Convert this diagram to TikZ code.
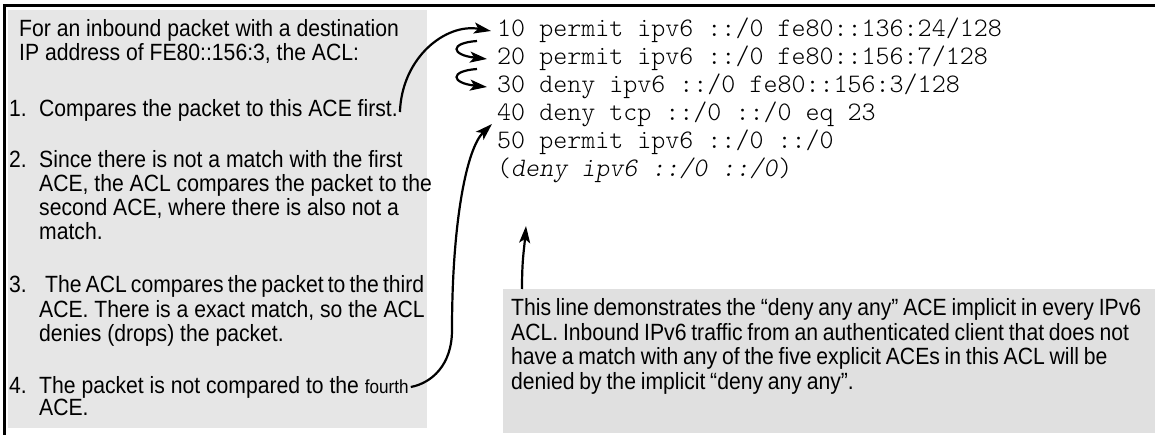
\documentclass[tikz,border=0pt]{standalone}
\usepackage{fontspec}
\setmainfont[FakeStretch=0.9]{Liberation Sans}
\usetikzlibrary{arrows.meta}
\definecolor{leftfill}{RGB}{230,230,230}
\definecolor{rightfill}{RGB}{224,224,224}
\tikzset{
  txt/.style={inner sep=0pt, anchor=base west, font=\fontsize{23.5}{25}\selectfont},
  code/.style={inner sep=0pt, anchor=base west, font=\ttfamily\fontseries{l}\fontsize{26.7}{28}\selectfont},
  panel/.style={inner sep=0pt, anchor=north west, draw=none},
  conn/.style={line width=2.2pt, -{Stealth[length=17pt,width=11pt,inset=4pt]}},
  frame/.style={line width=3pt}
}
\begin{document}
\begin{tikzpicture}[x=1pt,y=-1pt]
\useasboundingbox (0,0) rectangle (1155,435);

% background panels
\node[panel, fill=leftfill, minimum width=419pt, minimum height=418pt] (leftpanel) at (8,10) {};
\node[panel, fill=rightfill, minimum width=652pt, minimum height=144pt] (rightpanel) at (503,289) {};

% frame lines on top and left
\draw[frame] (4,435) -- (4,6) -- (1155,6);

% explanation, left column
\node[txt] (intro1) at (19,37) {For an inbound packet with a destination};
\node[txt] (intro2) at (19,61) {IP address of FE80::156:3, the ACL:};

\node[txt] (num1) at (9,117) {1.};
\node[txt] (item1) at (39,117) {Compares the packet to this ACE first.};

\node[txt] (num2) at (9,168) {2.};
\node[txt] (item2a) at (39,168) {Since there is not a match with the first};
\node[txt] (item2b) at (39,192) {ACE, the ACL compares the packet to the};
\node[txt] (item2c) at (39,216) {second ACE, where there is also not a};
\node[txt] (item2d) at (39,240) {match.};

\node[txt] (num3) at (9,293) {3.};
\node[txt] (item3a) at (45,293) {\spaceskip=4.1pt The ACL compares the packet to the third};
\node[txt] (item3b) at (39,317) {ACE. There is a exact match, so the ACL};
\node[txt] (item3c) at (39,341) {denies (drops) the packet.};

\node[txt] (num4) at (9,393) {4.};
\node[txt] (item4a) at (39,393) {The packet is not compared to the {\fontsize{19}{20}\selectfont fourth}};
\node[txt] (item4b) at (39,415) {ACE.};

% access control entries
\node[code] (ace10) at (497,37) {10 permit ipv6 ::/0 fe80::136:24/128};
\node[code] (ace20) at (497,65) {20 permit ipv6 ::/0 fe80::156:7/128};
\node[code] (ace30) at (497,93) {30 deny ipv6 ::/0 fe80::156:3/128};
\node[code] (ace40) at (497,121) {40 deny tcp ::/0 ::/0 eq 23};
\node[code] (ace50) at (497,149) {50 permit ipv6 ::/0 ::/0};
\node[code] (ace60) at (497,177) {(\textsl{deny ipv6 ::/0 ::/0})};

% note on the implicit entry
\node[txt] (note1) at (511,315) {\spaceskip=4.8pt This line demonstrates the “deny any any” ACE implicit in every IPv6};
\node[txt] (note2) at (511,340) {\spaceskip=4.8pt ACL. Inbound IPv6 traffic from an authenticated client that does not};
\node[txt] (note3) at (511,364) {\spaceskip=4.8pt have a match with any of the five explicit ACEs in this ACL will be};
\node[txt] (note4) at (511,389) {\spaceskip=4.8pt denied by the implicit “deny any any”.};

% connector end points
\coordinate (a1s) at ([xshift=2pt,yshift=5pt]item1.base east);
\coordinate (a1e) at ([xshift=-6pt,yshift=6pt]ace10.base west);
\coordinate (b1s) at ([xshift=-20pt,yshift=-4pt]ace10.base west);
\coordinate (b1e) at ([xshift=-10pt,yshift=6pt]ace20.base west);
\coordinate (b2s) at ([xshift=-20pt,yshift=-4pt]ace20.base west);
\coordinate (b2e) at ([xshift=-10pt,yshift=6pt]ace30.base west);
\coordinate (c1s) at ([xshift=2pt,yshift=6pt]item4a.base east);
\coordinate (c1m) at (452,330);
\coordinate (c1e) at ([xshift=-5pt,yshift=-3pt]ace40.base west);
\coordinate (d1s) at ([xshift=19pt]rightpanel.north west);
\coordinate (d1e) at ([xshift=29pt,yshift=-49pt]ace60.base west);

% connectors
\draw[conn] (a1s) .. controls +(2,-55) and +(-45,-8) .. (a1e);
\draw[conn] (b1s) .. controls +(-28,2) and +(-36,-4) .. (b1e);
\draw[conn] (b2s) .. controls +(-28,2) and +(-36,-4) .. (b2e);
\draw[conn] (c1s) .. controls +(21,-4) and +(0,35) .. (c1m)
                  .. controls +(0,-110) and +(-25,24) .. (c1e);
\draw[conn] (d1s) .. controls +(0,-30) and +(-2,25) .. (d1e);
\end{tikzpicture}
\end{document}
